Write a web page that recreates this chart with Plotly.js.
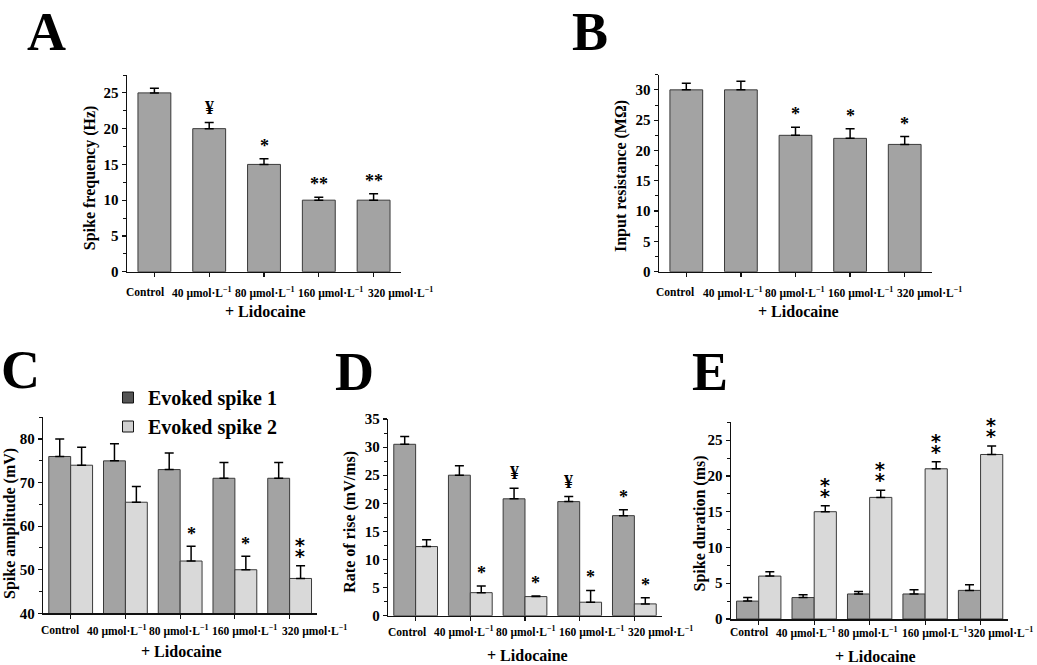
<!DOCTYPE html>
<html><head><meta charset="utf-8">
<script src="https://cdn.plot.ly/plotly-3.0.1.min.js"></script>
<style>html,body{margin:0;padding:0;background:#fff}#chart{width:1037px;height:665px}</style>
</head><body><div id="chart"></div>
<script>
// ---------------- data ----------------
const categories = ['Control', '40 µmol/L', '80 µmol/L', '160 µmol/L', '320 µmol/L'];
const tickLabels = ['Control', '40 µmol·L<sup>−1</sup>', '80 µmol·L<sup>−1</sup>', '160 µmol·L<sup>−1</sup>', '320 µmol·L<sup>−1</sup>'];
const seriesNames = ['Evoked spike 1', 'Evoked spike 2'];

const freqMean = [25.0, 20.0, 15.0, 10.0, 10.0];
const freqErr  = [0.65, 0.85, 0.8, 0.4, 0.9];
const freqSig  = ['', '¥', '*', '**', '**'];

const resMean = [30.0, 30.0, 22.5, 22.0, 21.0];
const resErr  = [1.1, 1.4, 1.35, 1.6, 1.3];
const resSig  = ['', '', '*', '*', '*'];

const ampSpike1    = [76.0, 75.0, 73.0, 71.0, 71.0];
const ampSpike1Err = [4.0, 3.9, 3.8, 3.6, 3.6];
const ampSpike2    = [74.0, 65.5, 52.0, 50.0, 48.0];
const ampSpike2Err = [4.1, 3.6, 3.4, 3.1, 2.9];
const ampSig1 = ['', '', '', '', ''];
const ampSig2 = ['', '', '*', '*', '⁑'];

const riseSpike1    = [30.5, 25.0, 20.8, 20.3, 17.8];
const riseSpike1Err = [1.4, 1.7, 1.9, 0.9, 1.05];
const riseSpike2    = [12.3, 4.1, 3.4, 2.4, 2.1];
const riseSpike2Err = [1.2, 1.2, 0.1, 2.1, 1.1];
const riseSig1 = ['', '', '¥', '¥', '*'];
const riseSig2 = ['', '*', '*', '*', '*'];

const durSpike1    = [2.5, 3.0, 3.5, 3.5, 4.0];
const durSpike1Err = [0.5, 0.4, 0.35, 0.6, 0.8];
const durSpike2    = [6.0, 15.0, 17.0, 21.0, 23.0];
const durSpike2Err = [0.6, 0.85, 1.0, 1.0, 1.2];
const durSig1 = ['', '', '', '', ''];
const durSig2 = ['', '⁑', '⁑', '⁑', '⁑'];

const panelLetters = ['A', 'B', 'C', 'D', 'E'];
const yTitles = ['Spike frequency (Hz)', 'Input resistance (MΩ)', 'Spike amplitude (mV)', 'Rate of rise (mV/ms)', 'Spike duration (ms)'];
const xTitle = '+ Lidocaine';

// ---------------- styling / geometry ----------------
const W = 1037, H = 665;
const FONT = 'Liberation Serif, Times New Roman, serif';
const C1 = '#a3a3a3', C2 = '#d9d9d9', EDGE = '#3a3a3a';
const px = v => v / W, py = v => 1 - v / H;

const panels = [
  {x0:127,   x1:401,   y0:75,    y1:271.7, range:[0,27.5], dtick:5,  minor:2.5, lblDy:20.3, lid:[265.5,311.7], yt:[89.7,177.5], let:[46,0],   letTop:true, shift:[-9,-7,1,11.5,27]},
  {x0:659,   x1:932,   y0:74.7,  y1:271.7, range:[0,32.5], dtick:5,  minor:2.5, lblDy:20.3, lid:[798.5,311.7], yt:[621,176],    let:[590,0],  letTop:true, shift:[-11,-8,-1,10,25]},
  {x0:43.3,  x1:317,   y0:417.3, y1:613.3, range:[40,85],  dtick:10, minor:5,   lblDy:16.7, lid:[181,651.7],   yt:[10,524],     let:[20,370], shift:[-10.5,-8,-1,10,25]},
  {x0:388.3, x1:661.7, y0:419,   y1:615.7, range:[0,35],   dtick:5,  minor:2.5, lblDy:16,   lid:[527,655],     yt:[350,521.7],  let:[354,372], shift:[-8.5,-6,1,12,26]},
  {x0:731,   x1:1008.3,y0:422.3, y1:619,   range:[0,27.5], dtick:5,  minor:2.5, lblDy:13,   lid:[875,656],     yt:[699,523.5],  let:[710,372], shift:[-10,-8,-1.5,9,20]}
];

const axName = i => (i === 0 ? '' : String(i + 1));

function errBar(arr) {
  return {type:'data', symmetric:false, array:arr, arrayminus:arr.map(() => 0),
          color:'#000', thickness:1.5, width:4.5};
}
function barTrace(i, y, err, color, name, width) {
  const t = {type:'bar', x:categories, y:y, xaxis:'x'+axName(i), yaxis:'y'+axName(i),
    marker:{color:color, line:{color:EDGE, width:1}}, error_y:errBar(err),
    name:name, showlegend:false, hoverinfo:'skip'};
  if (width) t.width = width;
  return t;
}

const data = [
  barTrace(0, freqMean, freqErr, C1, 'Spike frequency', 0.6),
  barTrace(1, resMean, resErr, C1, 'Input resistance', 0.6),
  barTrace(2, ampSpike1, ampSpike1Err, C1, seriesNames[0]),
  barTrace(2, ampSpike2, ampSpike2Err, C2, seriesNames[1]),
  barTrace(3, riseSpike1, riseSpike1Err, C1, seriesNames[0]),
  barTrace(3, riseSpike2, riseSpike2Err, C2, seriesNames[1]),
  barTrace(4, durSpike1, durSpike1Err, C1, seriesNames[0]),
  barTrace(4, durSpike2, durSpike2Err, C2, seriesNames[1]),
  // legend entries for panel C
  {type:'scatter', x:[null], y:[null], xaxis:'x3', yaxis:'y3', mode:'markers', name:seriesNames[0],
   marker:{symbol:'square', size:11, color:'#555555', line:{color:'#111', width:1}}, showlegend:true},
  {type:'scatter', x:[null], y:[null], xaxis:'x3', yaxis:'y3', mode:'markers', name:seriesNames[1],
   marker:{symbol:'square', size:11, color:'#d0d0d0', line:{color:'#111', width:1}}, showlegend:true}
];

const layout = {
  width:W, height:H, margin:{l:0, r:0, t:0, b:0},
  paper_bgcolor:'#fff', plot_bgcolor:'#fff',
  barmode:'group', bargap:0.2, bargroupgap:0,
  font:{family:FONT, color:'#000'},
  showlegend:true,
  legend:{x:px(108), y:py(378), xanchor:'left', yanchor:'top', bgcolor:'rgba(0,0,0,0)',
          font:{family:FONT, size:20, weight:'bold', color:'#000'}, tracegroupgap:0},
  annotations:[], shapes:[]
};

const f = (size) => ({family:FONT, size:size, weight:'bold', color:'#000'});

panels.forEach((p, i) => {
  const s = axName(i);
  layout['xaxis' + s] = {
    domain:[px(p.x0), px(p.x1)], anchor:'y' + s, type:'category', range:[-0.5, 4.5],
    showline:true, linecolor:'#111', linewidth:1.5, ticks:'outside', ticklen:4, tickwidth:1.2,
    tickcolor:'#111', showticklabels:false, showgrid:false, zeroline:false, fixedrange:true
  };
  layout['yaxis' + s] = {
    domain:[py(p.y1), py(p.y0)], anchor:'x' + s, range:p.range, dtick:p.dtick, tick0:0,
    showline:true, linecolor:'#111', linewidth:1.5, ticks:'outside', ticklen:4, tickwidth:1.2,
    tickcolor:'#111', minor:{dtick:p.minor, ticks:'outside', ticklen:2.5, tickcolor:'#111', tickwidth:1},
    tickfont:f(15),
    showgrid:false, zeroline:false, fixedrange:true
  };
  // category labels (positioned by category index on the category axis)
  tickLabels.forEach((t, j) => {
    layout.annotations.push({xref:'x' + s, yref:'paper', x:j, y:py(p.y1 + p.lblDy),
      text:t, showarrow:false, xanchor:'center', yanchor:'middle', xshift:p.shift[j], font:f(11.5)});
  });
  // x title
  layout.annotations.push({xref:'paper', yref:'paper', x:px(p.lid[0]), y:py(p.lid[1]), text:xTitle,
    showarrow:false, xanchor:'center', yanchor:'middle', font:f(16)});
  // y title
  layout.annotations.push({xref:'paper', yref:'paper', x:px(p.yt[0]), y:py(p.yt[1]), text:yTitles[i],
    textangle:-90, showarrow:false, xanchor:'center', yanchor:'middle', font:f(16)});
  // panel letter
  layout.annotations.push({xref:'paper', yref:'paper', x:px(p.let[0]), y:py(p.let[1]), text:panelLetters[i],
    showarrow:false, xanchor:'center', yanchor:p.letTop ? 'top' : 'middle', font:f(54)});
});

// significance marks
function addSig(i, mean, err, sig, xshift, base) {
  const s = axName(i);
  sig.forEach((m, j) => {
    if (!m) return;
    const stacked = m === '⁑';
    layout.annotations.push({xref:'x' + s, yref:'y' + s, x:j, y:mean[j] + err[j],
      text:m, showarrow:false, xanchor:'center', yanchor:'bottom', xshift:xshift,
      yshift:base + (m === '¥' ? 2 : 0),
      font:stacked ? {family:'DejaVu Serif, DejaVu Sans', size:24, weight:'bold', color:'#000'} : f(18)});
  });
}
const grpShift = i => 0.2 * (panels[i].x1 - panels[i].x0) / 5;
addSig(0, freqMean, freqErr, freqSig, 0, 1);
addSig(1, resMean, resErr, resSig, 0, 1);
addSig(2, ampSpike1, ampSpike1Err, ampSig1, -grpShift(2), 1);
addSig(2, ampSpike2, ampSpike2Err, ampSig2, grpShift(2), 0);
addSig(3, riseSpike1, riseSpike1Err, riseSig1, -grpShift(3), 1);
addSig(3, riseSpike2, riseSpike2Err, riseSig2, grpShift(3), 1);
addSig(4, durSpike1, durSpike1Err, durSig1, -grpShift(4), 1);
addSig(4, durSpike2, durSpike2Err, durSig2, grpShift(4), 0);

Plotly.newPlot('chart', data, layout, {displayModeBar:false, staticPlot:true});
</script>
</body></html>
